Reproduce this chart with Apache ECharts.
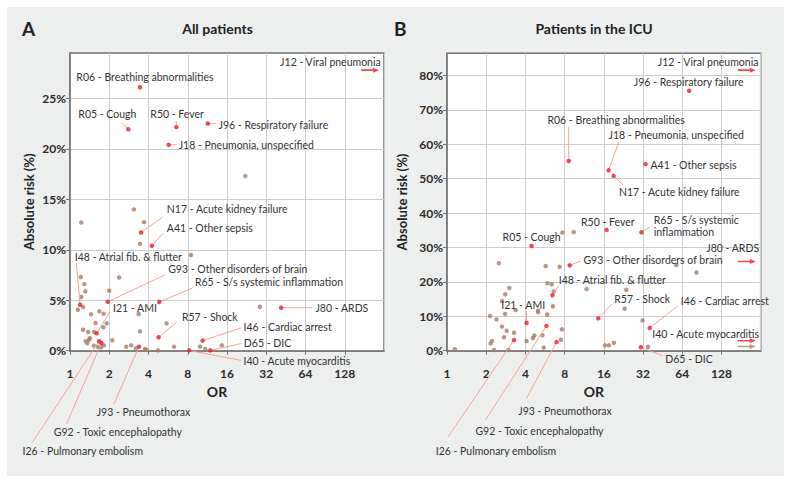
<!DOCTYPE html>
<html><head><meta charset="utf-8">
<script src="https://cdn.jsdelivr.net/npm/echarts@6/dist/echarts.min.js"></script>
<style>html,body{margin:0;padding:0;background:#fff}#chart{width:791px;height:483px}</style>
</head><body><div id="chart"></div>
<script>
// ================= DATA =================
const xTickLabels = [1, 2, 4, 8, 16, 32, 64, 128];
const offScaleOR = 200; // OR beyond the axis: drawn as an arrow at the right edge

// ---- Panel A: All patients ----
const aNames = ['R06 - Breathing abnormalities','R05 - Cough','R50 - Fever','J96 - Respiratory failure',
  'J18 - Pneumonia, unspecified','N17 - Acute kidney failure','A41 - Other sepsis','I48 - Atrial fib. & flutter',
  'G93 - Other disorders of brain','R65 - S/s systemic inflammation','I21 - AMI','R57 - Shock','I46 - Cardiac arrest',
  'D65 - DIC','I40 - Acute myocarditis','J80 - ARDS','J93 - Pneumothorax','G92 - Toxic encephalopathy','I26 - Pulmonary embolism'];
const aOR   = [3.44, 2.80, 6.54, 11.4, 5.71, 3.51, 4.24, 1.195, 1.95, 4.83, 1.60, 4.78, 10.4, 11.9, 8.2, 41.6, 3.38, 1.74, 1.67];
const aRisk = [26.1, 21.95, 22.15, 22.5, 20.4, 11.72, 10.4, 4.55, 4.85, 4.82, 1.72, 1.33, 1.0, 0.03, 0.03, 4.26, 0.4, 0.76, 0.93];
const aArrowNames = ['J12 - Viral pneumonia'];
const aArrowRisk  = [27.8];
const aOtherOR   = [22.1, 3.09, 3.70, 3.44, 1.22, 8.46, 1.21, 2.38, 1.29, 1.31, 2.0, 1.22, 1.26, 1.15, 1.45, 1.68, 1.81, 3.36,
  1.57, 1.91, 5.5, 1.80, 1.26, 1.38, 1.53, 3.44, 1.42, 1.40, 1.32, 1.36, 2.11, 1.52, 1.64, 1.73, 1.82, 2.70, 2.95, 3.2,
  3.76, 3.85, 4.74, 6.28, 9.93, 10.9, 14.6, 28.6];
const aOtherRisk = [17.3, 14.0, 12.74, 10.6, 12.71, 9.48, 7.3, 7.26, 6.6, 5.88, 5.94, 5.32, 4.33, 4.06, 3.6, 3.9, 3.66, 3.63,
  2.74, 2.71, 2.71, 2.32, 2.08, 1.85, 1.85, 1.92, 1.23, 1.09, 0.93, 0.73, 1.03, 0.5, 0.37, 0.33, 0.53, 0.4, 0.53, 0.24,
  0.17, 0.07, 0.03, 0.4, 0.4, 0.17, 0.53, 4.36];

// ---- Panel B: Patients in the ICU ----
const bNames = ['J96 - Respiratory failure','R06 - Breathing abnormalities','J18 - Pneumonia, unspecified','A41 - Other sepsis',
  'N17 - Acute kidney failure','R50 - Fever','R65 - S/s systemic\ninflammation','R05 - Cough','G93 - Other disorders of brain',
  'I48 - Atrial fib. & flutter','R57 - Shock','I21 - AMI','I46 - Cardiac arrest','D65 - DIC','J93 - Pneumothorax',
  'G92 - Toxic encephalopathy','I26 - Pulmonary embolism'];
const bOR   = [72.2, 8.6, 17.4, 33.4, 19.0, 16.8, 31.1, 4.46, 8.75, 6.45, 14.5, 4.08, 36.0, 30.8, 6.93, 5.8, 3.27];
const bRisk = [75.5, 55.1, 52.4, 54.2, 50.8, 35.1, 34.4, 30.4, 24.8, 16.1, 9.4, 8.05, 6.6, 1.0, 2.5, 7.2, 3.1];
const bArrowNames = ['J12 - Viral pneumonia', 'J80 - ARDS', 'I40 - Acute myocarditis'];
const bArrowRisk  = [81.5, 25.9, 2.9];
const bOtherArrowRisk = [1.2];
const bOtherOR   = [7.68, 9.4, 5.73, 7.32, 2.50, 57.6, 82.2, 5.9, 6.37, 6.6, 11.8, 23.8, 23.1, 6.5, 5.87, 5.0, 5.0, 3.37,
  3.01, 2.80, 2.65, 2.79, 2.14, 2.40, 2.64, 2.87, 3.27, 2.74, 31.7, 34.9, 16.3, 17.5, 19.1, 5.4, 4.68, 4.57, 4.08, 5.53,
  7.62, 7.49, 2.16, 2.21, 2.30, 2.96, 1.15];
const bOtherRisk = [34.3, 34.5, 24.6, 24.4, 25.4, 24.9, 22.7, 19.6, 19.3, 17.2, 17.9, 17.7, 12.2, 12.9, 10.5, 11.6, 11.2, 11.8,
  18.2, 16.4, 14.4, 10.7, 10.1, 9.1, 7.0, 5.8, 5.2, 3.9, 8.8, 1.16, 1.56, 1.56, 2.3, 4.5, 4.4, 3.7, 2.8, 0.9,
  6.2, 3.2, 2.1, 2.8, 0.2, 0.2, 0.4];

// ================= LABEL PLACEMENT (pixel offsets from each point) =================
const layoutA = {
  R06:{dx:-63.6,dy:-10.7}, R05:{dx:-50,dy:-14.7,line:[-6.7,-6.3]}, R50:{dx:-26,dy:-12.7,line:[0,-6]},
  J96:{dx:10.7,dy:1,line:[8.7,0]}, J18:{dx:10,dy:0.3,line:[8,0]}, N17:{dx:25.7,dy:-23,line:[21.4,-15.3]},
  A41:{dx:15,dy:-18,line:[11.3,-12.4]}, I48:{dx:-5.3,dy:-47.4,line:[-3.7,-41.7]}, G93:{dx:60.4,dy:-32.4,line:[56.7,-26.7]},
  R65:{dx:35.7,dy:-19.7,line:[33.2,-14]}, I21:{dx:16.4,dy:-25.6,line:[13.2,-21.3]}, R57:{dx:23.3,dy:-20,line:[18.3,-15.3]},
  I46:{dx:41,dy:-13.6,line:[38.7,-12.8]}, D65:{dx:33.6,dy:-7.4,line:[31.3,-6.9]}, I40:{dx:54.3,dy:10.3,line:[52,10]},
  J80:{dx:34.3,dy:0.6,line:[31,0]}, J93:{dx:-42.3,dy:65.6,line:[-25,57.3]}, G92:{dx:-47.6,dy:89,line:[-34.6,80.6]},
  I26:{dx:-76.5,dy:110,line:[-66.8,101.3]}, J12:{dx:10.7,dy:-8.6,align:'right'}
};
const layoutB = {
  J12:{dx:11.7,dy:-8.6,align:'right'}, J96:{dx:-55.3,dy:-8.7}, R06:{dx:-21.3,dy:-41.3,line:[0,-34.3]},
  J18:{dx:0,dy:-35.3,line:[10,-28]}, A41:{dx:5,dy:0.5}, N17:{dx:5.4,dy:16,line:[9.4,9]}, R50:{dx:-25.6,dy:-8.3},
  R65:{dx:12.3,dy:-6.5,line:[8,-5]}, R05:{dx:-29,dy:-9.3}, G93:{dx:13.7,dy:-5.3,line:[11,-4.3]},
  J80:{dx:12.4,dy:-13.4,align:'right'}, I48:{dx:6.3,dy:-15.3,line:[6,-8.8]}, R57:{dx:16,dy:-19.3,line:[13.7,-14.3]},
  I21:{dx:-25.3,dy:-18,line:[0,-12]}, I46:{dx:31,dy:-27.3,line:[28,-22]}, I40:{dx:12.4,dy:-7,align:'right'},
  D65:{dx:24.4,dy:12,line:[21.7,8.5]}, J93:{dx:-38.3,dy:69,line:[-30,56.3]}, G92:{dx:-71,dy:104.7,line:[-61,94]},
  I26:{dx:-78.3,dy:110.7,line:[-66.3,97.3]}
};

// ================= STYLE =================
const FONT = 'Lato, "Noto Sans", sans-serif';
const RED = '#ec1c2e', BROWN = '#a47e69', LINK = '#f6a293', AXIS = '#707070', GRIDC = '#cdcdcd', TXT = '#333';
const ARROW = 'path://M0,1.7 L12,1.7 L12,0 L18,2.5 L12,5 L12,3.3 L0,3.3 Z';

const chart = echarts.init(document.getElementById('chart'), null, {renderer: 'svg'});

function xAxis(gi) {
  return {
    type: 'log', logBase: 2, min: 1, max: 256, splitNumber: 8, gridIndex: gi,
    name: 'OR', nameLocation: 'middle', nameGap: 33,
    nameTextStyle: {fontFamily: FONT, fontWeight: 'bold', fontSize: 14, color: '#222', padding: [0, 20, 0, 0]},
    axisLine: {show: true, lineStyle: {color: AXIS, width: 1.5}},
    axisTick: {show: true, length: 4, lineStyle: {color: AXIS}},
    axisLabel: {margin: 16.5, fontFamily: FONT, fontWeight: 'bold', fontSize: 12, color: '#2b2b2b', showMaxLabel: false,
      formatter: v => xTickLabels.indexOf(Math.round(v)) >= 0 ? String(Math.round(v)) : ''},
    splitLine: {show: true, lineStyle: {color: GRIDC, width: 1}}
  };
}
function yAxis(gi, max, gap) {
  return {
    type: 'value', gridIndex: gi, min: 0, max: max, interval: 10 * (max > 50 ? 1 : 0.5),
    name: 'Absolute risk (%)', nameLocation: 'middle', nameGap: gap,
    nameTextStyle: {fontFamily: FONT, fontWeight: 'bold', fontSize: 13, color: '#222'},
    axisLine: {show: true, lineStyle: {color: AXIS, width: 1.5}},
    axisTick: {show: true, length: 4, lineStyle: {color: AXIS}},
    axisLabel: {margin: 4, fontFamily: FONT, fontWeight: 'bold', fontSize: 12, color: '#2b2b2b', showMaxLabel: false,
      formatter: '{value}%'},
    splitLine: {show: true, showMaxLine: false, lineStyle: {color: GRIDC, width: 1}}
  };
}

function annotations(gi, names, ors, risks, layout) {
  return {
    type: 'custom', xAxisIndex: gi, yAxisIndex: gi, clip: false, z: 3, silent: true,
    data: names.map((n, i) => [ors[i], risks[i], i]),
    renderItem: function (params, api) {
      const i = api.value(2);
      const name = names[i];
      const L = layout[name.split(' ')[0]];
      const p = api.coord([api.value(0), api.value(1)]);
      const children = [];
      if (L.line) {
        children.push({type: 'line', shape: {x1: p[0], y1: p[1], x2: p[0] + L.line[0], y2: p[1] + L.line[1]},
          style: {stroke: LINK, lineWidth: 1}});
      }
      children.push({type: 'text', style: {text: name, x: p[0] + L.dx, y: p[1] + L.dy,
        align: L.align || 'left', verticalAlign: 'middle', fill: TXT, lineHeight: 11.5,
        font: '10.5px ' + FONT}});
      return {type: 'group', children: children};
    }
  };
}
function dots(gi, ors, risks, color, z) {
  return {type: 'scatter', xAxisIndex: gi, yAxisIndex: gi, symbolSize: 4.5, z: z, silent: true,
    itemStyle: {color: color}, data: ors.map((v, i) => [v, risks[i]])};
}
function arrows(gi, risks, color) {
  return {type: 'scatter', xAxisIndex: gi, yAxisIndex: gi, symbol: ARROW, symbolSize: [18, 5], z: 5, silent: true,
    clip: false, itemStyle: {color: color}, data: risks.map(r => [offScaleOR, r])};
}

const option = {
  backgroundColor: '#ffffff',
  animation: false,
  textStyle: {fontFamily: FONT},
  grid: [
    {left: 70, top: 53, width: 314, height: 297.7, show: true, backgroundColor: '#fff', borderColor: AXIS, borderWidth: 1.5},
    {left: 447, top: 53.3, width: 313.7, height: 297.4, show: true, backgroundColor: '#fff', borderColor: AXIS, borderWidth: 1.5}
  ],
  xAxis: [xAxis(0), xAxis(1)],
  yAxis: [yAxis(0, 29.5, 35), yAxis(1, 86.4, 39)],
  graphic: [
    {type: 'rect', z: -100, shape: {x: 7, y: 7, width: 777, height: 469}, style: {fill: '#edefee'}},
    {type: 'text', x: 22, y: 28, style: {text: 'A', font: 'bold 19px ' + FONT, fill: '#222', verticalAlign: 'middle'}},
    {type: 'text', x: 394, y: 28, style: {text: 'B', font: 'bold 19px ' + FONT, fill: '#222', verticalAlign: 'middle'}},
    {type: 'text', x: 217.5, y: 28, style: {text: 'All patients', font: 'bold 14px ' + FONT, fill: '#222', align: 'center', verticalAlign: 'middle'}},
    {type: 'text', x: 594, y: 28, style: {text: 'Patients in the ICU', font: 'bold 14px ' + FONT, fill: '#222', align: 'center', verticalAlign: 'middle'}}
  ],
  series: [
    dots(0, aOtherOR, aOtherRisk, BROWN, 2),
    annotations(0, aNames, aOR, aRisk, layoutA),
    annotations(0, aArrowNames, aArrowNames.map(() => offScaleOR), aArrowRisk, layoutA),
    dots(0, aOR, aRisk, RED, 5),
    arrows(0, aArrowRisk, RED),
    dots(1, bOtherOR, bOtherRisk, BROWN, 2),
    annotations(1, bNames, bOR, bRisk, layoutB),
    annotations(1, bArrowNames, bArrowNames.map(() => offScaleOR), bArrowRisk, layoutB),
    dots(1, bOR, bRisk, RED, 5),
    arrows(1, bArrowRisk, RED),
    arrows(1, bOtherArrowRisk, BROWN)
  ]
};
chart.setOption(option);
</script>
</body></html>
